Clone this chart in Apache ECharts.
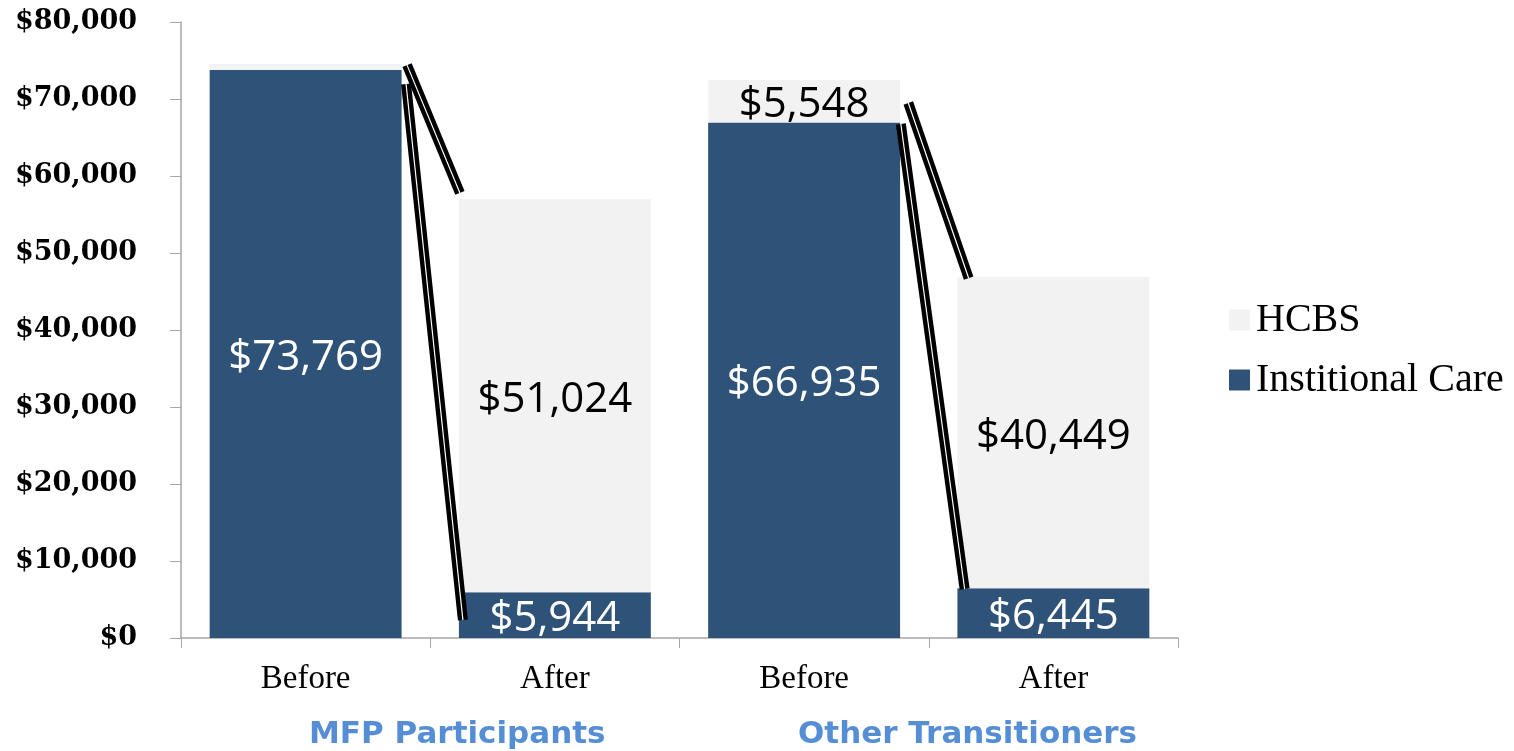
<!DOCTYPE html>
<html>
<head>
<meta charset="utf-8">
<script src="https://cdn.jsdelivr.net/npm/echarts@6/dist/echarts.min.js"></script>
<style>
  html, body { margin: 0; padding: 0; background: #fff; }
  #chart { width: 1514px; height: 751px; }
</style>
</head>
<body>
<div id="chart"></div>
<script>
// categories and values
var categories = ['Before', 'After', 'Before', 'After'];
var groupNames = ['MFP Participants', 'Other Transitioners'];
var institutional = [73769, 5944, 66935, 6445];
var hcbs = [776, 51024, 5548, 40449];
var hcbsLabelShown = [false, true, true, true];
var yTicks = [0, 10000, 20000, 30000, 40000, 50000, 60000, 70000, 80000];

// connector lines: [fromCat, fromValue, toCat, toValue, fromOffset, toOffset] (offset in band widths)
var connectors = [
    [0, 74400, 1, 57800, 0.407, -0.381],
    [0, 71950, 1, 2340, 0.403, -0.369],
    [2, 69480, 3, 46750, 0.418, -0.340],
    [2, 66750, 3, 6360, 0.388, -0.356]
];

function money(v) {
    return '$' + String(v).replace(/\B(?=(\d{3})+(?!\d))/g, ',');
}

var dom = document.getElementById('chart');
var myChart = echarts.init(dom);

var option = {
    animation: false,
    grid: {
        left: 181,
        right: 336,
        top: 22,
        bottom: 113
    },
    legend: {
        orient: 'vertical',
        left: 1224,
        top: 295,
        icon: 'rect',
        itemWidth: 21,
        itemHeight: 21,
        itemGap: 20,
        data: ['HCBS', 'Institional Care'],
        textStyle: {
            fontFamily: 'Liberation Serif',
            fontSize: 40,
            color: '#000',
            padding: [0, 0, 0, 1]
        }
    },
    xAxis: {
        type: 'category',
        data: categories,
        axisTick: {
            show: true,
            length: 10,
            lineStyle: { color: '#a6a6a6' }
        },
        axisLine: {
            lineStyle: { color: '#a6a6a6', width: 1.5 }
        },
        axisLabel: {
            margin: 25,
            color: '#000',
            fontFamily: 'Liberation Serif',
            fontSize: 33
        }
    },
    yAxis: {
        type: 'value',
        min: yTicks[0],
        max: yTicks[yTicks.length - 1],
        interval: yTicks[1] - yTicks[0],
        splitLine: { show: false },
        axisLine: {
            show: true,
            lineStyle: { color: '#a6a6a6', width: 1.5 }
        },
        axisTick: {
            show: true,
            length: 11,
            lineStyle: { color: '#a6a6a6' }
        },
        axisLabel: {
            margin: 44,
            color: '#000',
            fontFamily: 'DejaVu Serif',
            fontWeight: 'bold',
            fontSize: 27,
            formatter: function (v) { return money(v); }
        }
    },
    series: [{
        name: 'Institional Care',
        type: 'bar',
        stack: 'total',
        barCategoryGap: '23%',
        itemStyle: { color: '#2f5279' },
        label: {
            show: true,
            position: 'inside',
            offset: [0, 4],
            color: '#fff',
            fontFamily: 'Open Sans',
            fontSize: 42,
            formatter: function (p) { return money(p.value); }
        },
        data: institutional
    }, {
        name: 'HCBS',
        type: 'bar',
        stack: 'total',
        barCategoryGap: '23%',
        itemStyle: { color: '#f2f2f2' },
        label: {
            show: true,
            position: 'inside',
            offset: [0, 4],
            color: '#000',
            fontFamily: 'Open Sans',
            fontSize: 42,
            formatter: function (p) {
                return hcbsLabelShown[p.dataIndex] ? money(p.value) : '';
            }
        },
        data: hcbs
    }, {
        // hand drawn series lines between the bars
        type: 'custom',
        silent: true,
        z: 10,
        encode: { x: [0, 2], y: [1, 3] },
        renderItem: function (params, api) {
            var band = api.size([1, 0])[0];
            var a = api.coord([api.value(0), api.value(1)]);
            var b = api.coord([api.value(2), api.value(3)]);
            var x1 = a[0] + api.value(4) * band;
            var x2 = b[0] + api.value(5) * band;
            var shape = { x1: x1, y1: a[1], x2: x2, y2: b[1] };
            return {
                type: 'group',
                children: [{
                    type: 'line',
                    shape: shape,
                    style: { stroke: '#000', lineWidth: 10 }
                }, {
                    type: 'line',
                    shape: shape,
                    style: { stroke: '#fff', lineWidth: 1.2 }
                }]
            };
        },
        data: connectors
    }],
    graphic: [{
        type: 'text',
        left: 309,
        top: 719,
        style: {
            text: groupNames[0],
            fill: '#558ed5',
            font: 'bold 31px "DejaVu Sans"'
        }
    }, {
        type: 'text',
        left: 798,
        top: 719,
        style: {
            text: groupNames[1],
            fill: '#558ed5',
            font: 'bold 31px "DejaVu Sans"'
        }
    }]
};

myChart.setOption(option);
</script>
</body>
</html>
